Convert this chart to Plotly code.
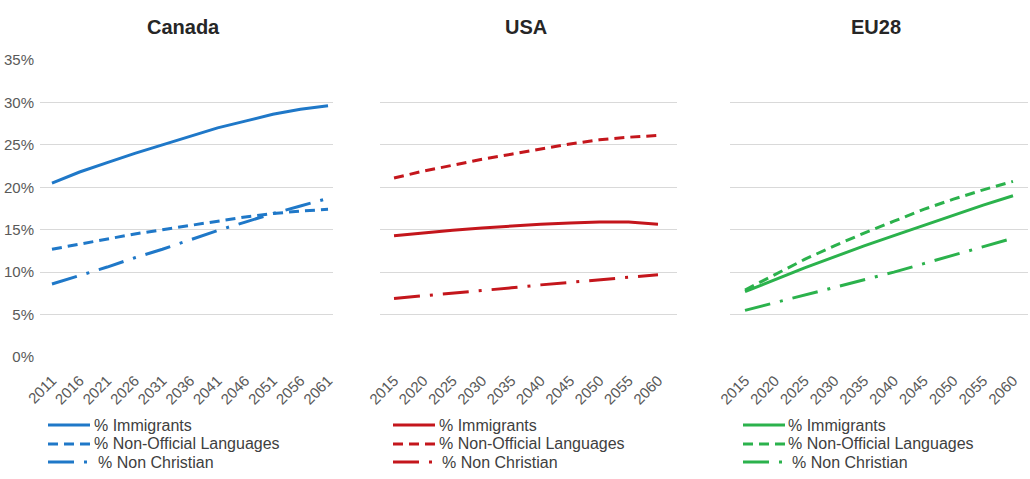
import plotly.graph_objects as go

# ---- data ----
canada_years = [2011, 2016, 2021, 2026, 2031, 2036, 2041, 2046, 2051, 2056, 2061]
canada_immigrants = [20.5, 21.8, 22.9, 24.0, 25.0, 26.0, 27.0, 27.8, 28.6, 29.2, 29.6]
canada_languages = [12.7, 13.3, 13.9, 14.5, 15.0, 15.5, 16.0, 16.5, 16.9, 17.2, 17.4]
canada_nonchristian = [8.6, 9.6, 10.6, 11.7, 12.7, 13.8, 14.9, 15.9, 16.9, 17.8, 18.7]

usa_years = [2015, 2020, 2025, 2030, 2035, 2040, 2045, 2050, 2055, 2060]
usa_immigrants = [14.3, 14.65, 14.95, 15.2, 15.45, 15.65, 15.8, 15.9, 15.9, 15.65]
usa_languages = [21.1, 21.9, 22.6, 23.3, 23.9, 24.5, 25.1, 25.6, 25.9, 26.1]
usa_nonchristian = [6.9, 7.2, 7.55, 7.85, 8.15, 8.5, 8.8, 9.1, 9.4, 9.7]

eu_years = [2015, 2020, 2025, 2030, 2035, 2040, 2045, 2050, 2055, 2060]
eu_immigrants = [7.7, 9.1, 10.5, 11.8, 13.1, 14.3, 15.5, 16.7, 17.9, 19.0]
eu_languages = [7.9, 9.7, 11.5, 13.1, 14.6, 16.0, 17.4, 18.6, 19.7, 20.7]
eu_nonchristian = [5.5, 6.4, 7.3, 8.2, 9.1, 10.0, 11.0, 12.0, 13.0, 14.0]

panel_titles = ["Canada", "USA", "EU28"]
series_names = ["% Immigrants", "% Non-Official Languages", "% Non Christian"]
y_ticks = [0, 5, 10, 15, 20, 25, 30, 35]
y_labels = ["0%", "5%", "10%", "15%", "20%", "25%", "30%", "35%"]

# ---- styling ----
W, H = 1030, 479
ML, MR, MT, MB = 40, 2, 60, 122
PW = W - ML - MR
PH = H - MT - MB
FONT = "Liberation Sans, Arial, sans-serif"
GRID = "#d9d9d9"
TXT = "#595959"


def px_x(px):
    return (px - ML) / PW


def px_y(py):
    return (H - MB - py) / PH


panels = [
    dict(years=canada_years, data=[canada_immigrants, canada_languages, canada_nonchristian],
         color="#1f78c8", px=(40, 333), xr=[2008.83, 2061.9],
         leg_line=48, leg_text=[93, 93, 97]),
    dict(years=usa_years, data=[usa_immigrants, usa_languages, usa_nonchristian],
         color="#c4161c", px=(380, 677), xr=[2012.61, 2063.24],
         leg_line=393, leg_text=[438, 438, 441]),
    dict(years=eu_years, data=[eu_immigrants, eu_languages, eu_nonchristian],
         color="#2bb24c", px=(730, 1028), xr=[2012.48, 2062.52],
         leg_line=743, leg_text=[787, 787, 791]),
]
dashes = ["solid", "10px,6px", "26px,10px,3px,10px"]
leg_rows = [425, 444, 462]
LEG_LEN = 42

fig = go.Figure()
layout = dict(
    width=W, height=H,
    margin=dict(l=ML, r=MR, t=MT, b=MB, pad=0, autoexpand=False),
    paper_bgcolor="white", plot_bgcolor="white",
    font=dict(family=FONT, color=TXT, size=15),
    showlegend=False,
    annotations=[], shapes=[],
)

for i, p in enumerate(panels):
    ax = "" if i == 0 else str(i + 1)
    for j, (name, vals) in enumerate(zip(series_names, p["data"])):
        fig.add_trace(go.Scatter(
            x=p["years"], y=vals, mode="lines", name=name,
            line=dict(color=p["color"], width=3, dash=dashes[j]),
            xaxis="x" + ax, yaxis="y" + ax, showlegend=False,
        ))
        # legend key (line sample + label)
        ry = px_y(leg_rows[j])
        layout["shapes"].append(dict(
            type="line", xref="paper", yref="paper",
            x0=px_x(p["leg_line"]), x1=px_x(p["leg_line"] + LEG_LEN), y0=ry, y1=ry,
            line=dict(color=p["color"], width=3, dash=dashes[j]),
        ))
        layout["annotations"].append(dict(
            text=name, x=px_x(p["leg_text"][j]), y=ry, xref="paper", yref="paper",
            showarrow=False, xanchor="left", yanchor="middle", borderpad=0,
            font=dict(size=16, color="#404040", family=FONT),
        ))
    layout["xaxis" + ax] = dict(
        domain=[px_x(p["px"][0]), min(1.0, px_x(p["px"][1]))], range=p["xr"],
        tickmode="array", tickvals=p["years"], ticktext=[str(y) for y in p["years"]],
        tickangle=-45, showgrid=False, zeroline=False, showline=False,
        ticks="", ticklabelstandoff=11, anchor="y" + ax, automargin=False,
        tickfont=dict(size=15, color=TXT, family=FONT), fixedrange=True,
    )
    layout["yaxis" + ax] = dict(
        domain=[0, 1], range=[0, 35], tickmode="array", tickvals=y_ticks,
        ticktext=y_labels, showgrid=True, gridcolor=GRID, gridwidth=1,
        zeroline=False, showline=False, ticks="", automargin=False,
        showticklabels=(i == 0), ticklabelstandoff=5, anchor="x" + ax,
        tickfont=dict(size=15, color=TXT, family=FONT), fixedrange=True,
    )
    cx = px_x((p["px"][0] + p["px"][1]) / 2) - 3 / PW
    layout["annotations"].append(dict(
        text="<b>%s</b>" % panel_titles[i], x=cx, y=px_y(27),
        xref="paper", yref="paper", showarrow=False,
        font=dict(size=20, color="#262626", family=FONT),
        xanchor="center", yanchor="middle",
    ))

fig.update_layout(**layout)
fig.write_html("out.html")
